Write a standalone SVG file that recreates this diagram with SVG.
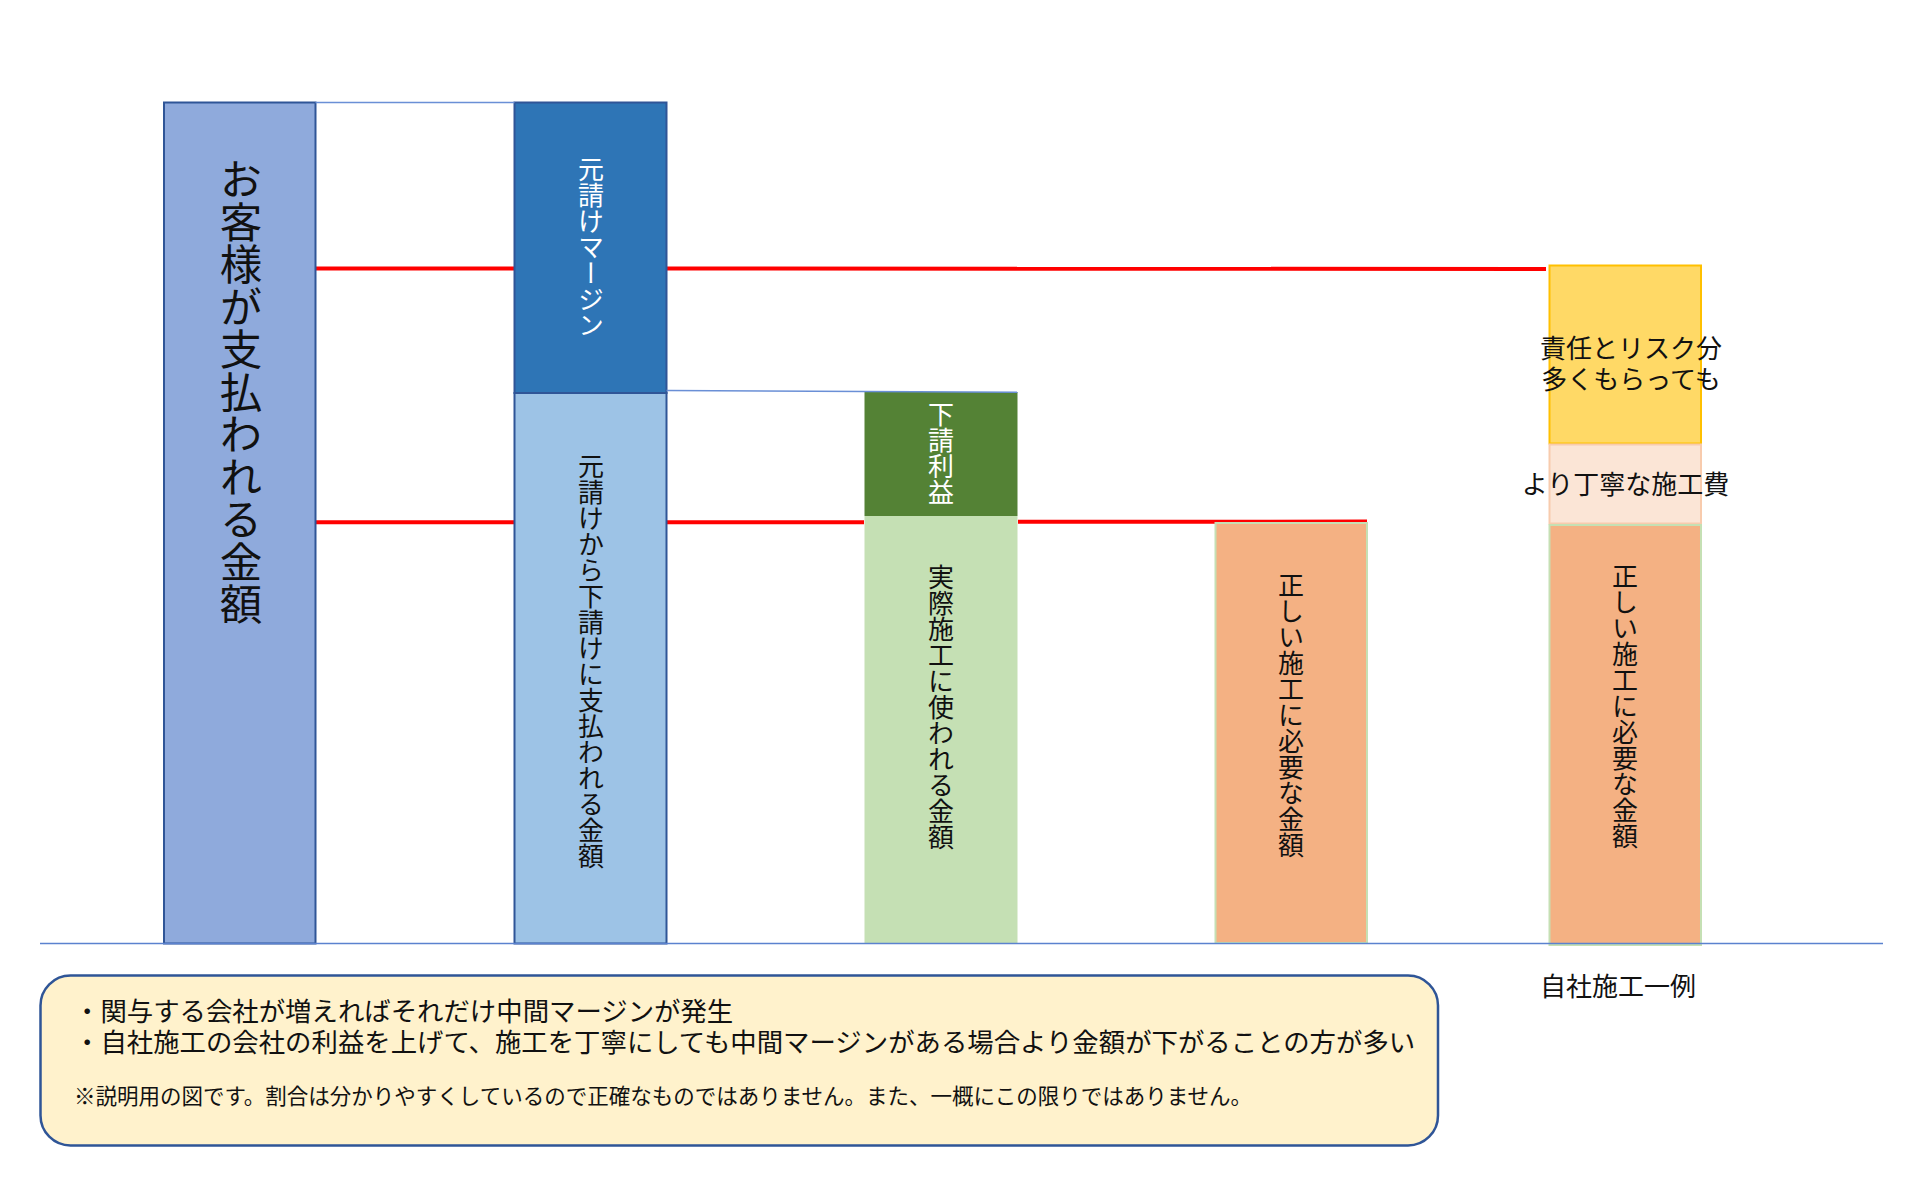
<svg xmlns="http://www.w3.org/2000/svg" width="1920" height="1180" viewBox="0 0 1920 1180">
<style>
text{font-family:"Noto Sans CJK JP","Noto Sans CJK SC",sans-serif;fill:#111;}
.v{writing-mode:vertical-rl;font-size:26px;}
.w{fill:#fff;}
.big{font-size:42.5px;}
.h{font-size:26px;text-anchor:middle;}
.note{font-size:26.4px;}
.small{font-size:21.5px;}
.red{stroke:#ff0000;stroke-width:4;fill:none;}
.thin{stroke:#6a8fd6;stroke-width:1.5;fill:none;}
.base{stroke:#5b82cf;stroke-width:1.5;fill:none;}
.dk{stroke:#2f5597;stroke-width:2;}
</style>
<rect x="0" y="0" width="1920" height="1180" fill="#ffffff"/>
<g id="connectors">
<line class="red" x1="316" y1="268.5" x2="514" y2="268.5"/>
<line class="red" x1="667" y1="268.5" x2="1546" y2="269"/>
<line class="red" x1="316" y1="522.3" x2="514" y2="522.3"/>
<line class="red" x1="667" y1="522.3" x2="864" y2="522.3"/>
<line class="red" x1="1018" y1="521.8" x2="1367" y2="521.6"/>
</g>
<g id="node-customer">
<rect class="dk" x="164" y="102.5" width="151.5" height="841" fill="#8faadc"/>
<text class="v big" x="241" y="158">お客様が支払われる金額</text>
</g>
<g id="node-margin">
<rect class="dk" x="514.5" y="102.5" width="152" height="290.5" fill="#2e75b6"/>
<text class="v w" x="591" y="156.5">元請けマージン</text>
</g>
<g id="node-paid-sub">
<rect class="dk" x="514.5" y="393" width="152" height="550.5" fill="#9dc3e6"/>
<text class="v" x="591" y="453.5">元請けから下請けに支払われる金額</text>
</g>
<g id="node-sub-profit">
<rect x="864.5" y="392" width="153" height="124" fill="#548235"/>
<text class="v w" x="941" y="401">下請利益</text>
</g>
<g id="node-actual">
<rect x="864.5" y="516" width="153" height="427.5" fill="#c5e0b4"/>
<text class="v" x="941" y="564">実際施工に使われる金額</text>
</g>
<g id="node-correct">
<rect x="1215.5" y="523" width="151.5" height="420" fill="#f4b183" stroke="#c5e0b4" stroke-width="2"/>
<text class="v" x="1291" y="572">正しい施工に必要な金額</text>
</g>
<g id="node-own-risk">
<rect x="1549.5" y="265.5" width="151.5" height="178" fill="#ffd966" stroke="#ffc000" stroke-width="2"/>
<text class="h" x="1631" y="358">責任とリスク分</text>
<text class="h" x="1631" y="388.5">多くもらっても</text>
</g>
<g id="node-own-careful">
<rect x="1549.5" y="444.5" width="151.5" height="79" fill="#fbe5d6" stroke="#f8cbad" stroke-width="2"/>
<text class="h" x="1625.5" y="494">より丁寧な施工費</text>
</g>
<g id="node-own-correct">
<rect x="1549.5" y="525" width="151.5" height="420" fill="#f4b183" stroke="#c5e0b4" stroke-width="2"/>
<text class="v" x="1625" y="563">正しい施工に必要な金額</text>
</g>
<g id="label-own">
<text class="h" x="1618" y="996">自社施工一例</text>
</g>
<g id="connectors-thin">
<line class="thin" x1="315.5" y1="102.5" x2="514.5" y2="102.5"/>
<line class="thin" x1="666.5" y1="390.5" x2="1017.5" y2="392.3"/>
<line class="base" x1="40" y1="943.5" x2="1883" y2="943.5"/>
</g>
<g id="node-notes">
<rect x="40.5" y="975.5" width="1397.5" height="170" rx="30" ry="30" fill="#fff2cc" stroke="#2f5597" stroke-width="2.5"/>
<text class="note" x="74" y="1020.5">・関与する会社が増えればそれだけ中間マージンが発生</text>
<text class="note" x="74" y="1051.5">・自社施工の会社の利益を上げて、施工を丁寧にしても中間マージンがある場合より金額が下がることの方が多い</text>
<text class="small" x="74" y="1103.5">※説明用の図です。割合は分かりやすくしているので正確なものではありません。また、一概にこの限りではありません。</text>
</g>
</svg>
